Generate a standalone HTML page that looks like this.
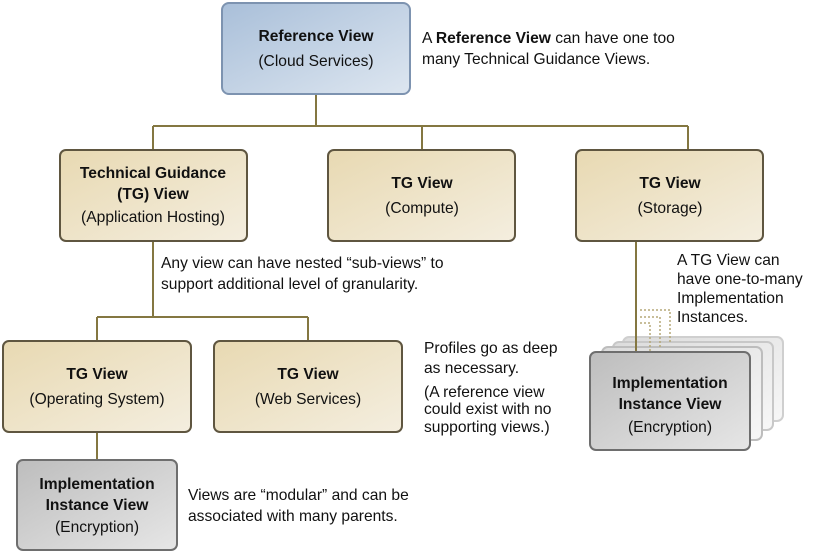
<!DOCTYPE html>
<html><head><meta charset="utf-8"><style>
body{margin:0;background:#fff}
svg{display:block}
text{font-family:"Liberation Sans",sans-serif;font-size:15.6px;fill:#111}
.b{font-weight:bold}
</style></head><body>
<svg width="821" height="554" viewBox="0 0 821 554">
<defs>
<linearGradient id="blue" x1="0" y1="0" x2="1" y2="1"><stop offset="0" stop-color="#a9bfd9"/><stop offset="1" stop-color="#dde6f0"/></linearGradient>
<linearGradient id="tan" x1="0" y1="0" x2="1" y2="1"><stop offset="0" stop-color="#e8d9b2"/><stop offset="1" stop-color="#f4eedf"/></linearGradient>
<linearGradient id="grey" x1="0" y1="0" x2="1" y2="1"><stop offset="0" stop-color="#bdbdbd"/><stop offset="1" stop-color="#e6e6e6"/></linearGradient>
<linearGradient id="lg" x1="0" y1="0" x2="1" y2="1"><stop offset="0" stop-color="#dcdcdc"/><stop offset="1" stop-color="#f7f7f7"/></linearGradient>
</defs>
<g stroke="#847741" stroke-width="2" fill="none">
<path d="M316 94V126M153 126H688M153 126V150M422 126V150M688 126V150"/>
<path d="M153 241V317M97 317H308M97 317V341M308 317V341"/>
<path d="M97 432V460"/>
</g>
<rect x="623" y="337" width="160" height="84" rx="6" fill="url(#lg)" stroke="#cfcfcf" stroke-width="2"/>
<rect x="613" y="342" width="160" height="88" rx="6" fill="url(#lg)" stroke="#c8c8c8" stroke-width="2"/>
<rect x="602" y="347" width="160" height="93" rx="6" fill="url(#lg)" stroke="#bdbdbd" stroke-width="2"/>
<g stroke="#b5a878" stroke-width="1.5" stroke-dasharray="2,2" fill="none">
<path d="M640 323H650V352M640 317H660V347M640 310H670V342"/>
</g>
<path d="M636 241V352" stroke="#847741" stroke-width="2"/>
<rect x="222" y="3" width="188" height="91" rx="7" fill="url(#blue)" stroke="#7d93b0" stroke-width="2"/>
<rect x="60" y="150" width="187" height="91" rx="6" fill="url(#tan)" stroke="#5f5640" stroke-width="2"/>
<rect x="328" y="150" width="187" height="91" rx="6" fill="url(#tan)" stroke="#5f5640" stroke-width="2"/>
<rect x="576" y="150" width="187" height="91" rx="6" fill="url(#tan)" stroke="#5f5640" stroke-width="2"/>
<rect x="3" y="341" width="188" height="91" rx="6" fill="url(#tan)" stroke="#5f5640" stroke-width="2"/>
<rect x="214" y="341" width="188" height="91" rx="6" fill="url(#tan)" stroke="#5f5640" stroke-width="2"/>
<rect x="17" y="460" width="160" height="90" rx="6" fill="url(#grey)" stroke="#6e6e6e" stroke-width="2"/>
<rect x="590" y="352" width="160" height="98" rx="6" fill="url(#grey)" stroke="#6e6e6e" stroke-width="2"/>
<g text-anchor="middle">
<text x="316" y="41" class="b">Reference View</text><text x="316" y="66">(Cloud Services)</text>
<text x="153" y="178" class="b">Technical Guidance</text><text x="153" y="199" class="b">(TG) View</text><text x="153" y="222">(Application Hosting)</text>
<text x="422" y="188" class="b">TG View</text><text x="422" y="213">(Compute)</text>
<text x="670" y="188" class="b">TG View</text><text x="670" y="213">(Storage)</text>
<text x="97" y="379" class="b">TG View</text><text x="97" y="404">(Operating System)</text>
<text x="308" y="379" class="b">TG View</text><text x="308" y="404">(Web Services)</text>
<text x="97" y="489" class="b">Implementation</text><text x="97" y="510" class="b">Instance View</text><text x="97" y="532">(Encryption)</text>
<text x="670" y="388" class="b">Implementation</text><text x="670" y="409" class="b">Instance View</text><text x="670" y="432">(Encryption)</text>
</g>
<text x="422" y="43">A <tspan class="b">Reference View</tspan> can have one too</text>
<text x="422" y="64">many Technical Guidance Views.</text>
<text x="161" y="268">Any view can have nested “sub-views” to</text>
<text x="161" y="289">support additional level of granularity.</text>
<text x="424" y="353">Profiles go as deep</text>
<text x="424" y="373">as necessary.</text>
<text x="424" y="397">(A reference view</text>
<text x="424" y="414">could exist with no</text>
<text x="424" y="432">supporting views.)</text>
<text x="677" y="265">A TG View can</text>
<text x="677" y="284">have one-to-many</text>
<text x="677" y="303">Implementation</text>
<text x="677" y="322">Instances.</text>
<text x="188" y="500">Views are “modular” and can be</text>
<text x="188" y="521">associated with many parents.</text>
</svg>
</body></html>
